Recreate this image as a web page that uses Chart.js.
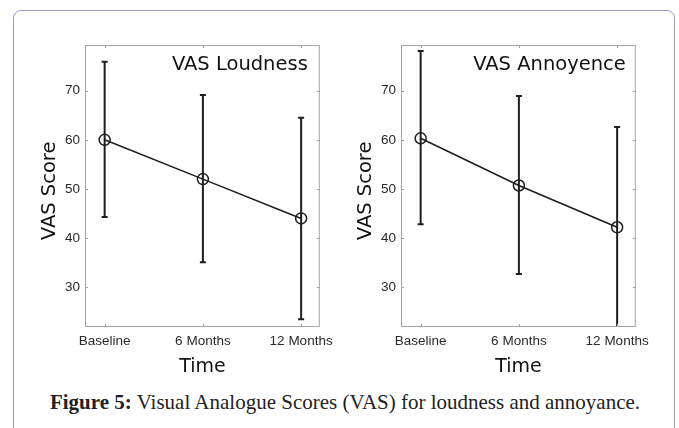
<!DOCTYPE html>
<html>
<head>
<meta charset="utf-8">
<script src="https://cdn.jsdelivr.net/npm/chart.js@4.4.1/dist/chart.umd.min.js"></script>
<style>
    body { margin: 0; background: #fff; width: 679px; height: 428px; overflow: hidden; position: relative; }
    #box { position: absolute; left: 13px; top: 10px; width: 660px; height: 500px; border: 1.6px solid #9a9ac6; border-radius: 8px; }
    .plot { position: absolute; top: 0; width: 340px; height: 390px; }
    #caption { position: absolute; left: 0; width: 690px; top: 392px; text-align: center; font: 21px 'Liberation Serif', serif; line-height: 21px; color: #222; }
</style>
</head>
<body>
<div id="box"></div>
<div class="plot" style="left:0px"><canvas id="loudness"></canvas></div>
<div class="plot" style="left:316px"><canvas id="annoyance"></canvas></div>
<div id="caption"><b>Figure 5:</b> Visual Analogue Scores (VAS) for loudness and annoyance.</div>
<script>
// data (mean, upper and lower end of error bars)
const categories = ['Baseline', '6 Months', '12 Months']
const yTicks = [30, 40, 50, 60, 70]

const loudnessMean = [60.0, 52.0, 44.0]
const loudnessUpper = [75.9, 69.1, 64.5]
const loudnessLower = [44.3, 35.1, 23.5]

const annoyMean = [60.3, 50.7, 42.2]
const annoyUpper = [78.1, 68.9, 62.6]
const annoyLower = [42.8, 32.7, 21.8]

const ink = '#1e1e1e'
const frameColor = '#a3a3a3'

// draws error bars, the box round the plot, inner ticks and the inset title
const matlabPlugin = {
    id: 'matlab',
    beforeDatasetsDraw(chart, args, opts) {
        const {ctx, chartArea: a, scales: {x, y}} = chart
        ctx.save()
        ctx.beginPath()
        ctx.rect(a.left, a.top, a.right - a.left, a.bottom - a.top)
        ctx.clip()
        ctx.strokeStyle = ink
        ctx.lineWidth = 2
        opts.upper.forEach((hi, i) => {
            const px = x.getPixelForValue(i)
            const top = y.getPixelForValue(hi)
            const bot = y.getPixelForValue(opts.lower[i])
            ctx.beginPath()
            ctx.moveTo(px, top); ctx.lineTo(px, bot)
            ctx.moveTo(px - 3, top); ctx.lineTo(px + 3, top)
            ctx.moveTo(px - 3, bot); ctx.lineTo(px + 3, bot)
            ctx.stroke()
        })
        ctx.restore()
    },
    afterDraw(chart, args, opts) {
        const {ctx, chartArea: a, scales: {x, y}} = chart
        ctx.save()
        ctx.strokeStyle = frameColor
        ctx.lineWidth = 1
        ctx.strokeRect(a.left + 0.5, a.top + 0.5, a.right - a.left - 1, a.bottom - a.top - 1)
        ctx.beginPath()
        y.ticks.forEach(t => {
            const py = Math.round(y.getPixelForValue(t.value)) + 0.5
            ctx.moveTo(a.left, py); ctx.lineTo(a.left + 3, py)
            ctx.moveTo(a.right, py); ctx.lineTo(a.right - 3, py)
        })
        x.ticks.forEach(t => {
            const px = Math.round(x.getPixelForValue(t.value)) + 0.5
            ctx.moveTo(px, a.bottom); ctx.lineTo(px, a.bottom - 3)
            ctx.moveTo(px, a.top); ctx.lineTo(px, a.top + 3)
        })
        ctx.stroke()

        ctx.fillStyle = '#111'
        ctx.font = '19.5px "DejaVu Sans"'
        ctx.textAlign = 'right'
        ctx.textBaseline = 'middle'
        ctx.fillText(opts.title, a.right - opts.titleRight, a.top + 20)
        ctx.restore()
    }
}

function makePlot(id, mean, upper, lower, title, titleRight) {
    return new Chart(document.getElementById(id), {
        type: 'line',
        data: {
            datasets: [{
                data: mean.map((v, i) => ({x: i, y: v})),
                borderColor: ink,
                borderWidth: 1.6,
                pointRadius: 5.5,
                pointHoverRadius: 5.5,
                pointBorderWidth: 1.5,
                pointBorderColor: ink,
                pointBackgroundColor: 'rgba(0,0,0,0)',
                fill: false
            }]
        },
        options: {
            responsive: true,
            maintainAspectRatio: false,
            animation: false,
            events: [],
            layout: { padding: { left: 0, top: 45, right: 17, bottom: 0 } },
            plugins: {
                legend: { display: false },
                tooltip: { enabled: false },
                matlab: { upper: upper, lower: lower, title: title, titleRight: titleRight }
            },
            scales: {
                x: {
                    type: 'linear',
                    min: -0.2,
                    max: 2.19,
                    grid: { display: false, drawTicks: false },
                    border: { display: false },
                    afterBuildTicks: s => { s.ticks = categories.map((c, i) => ({value: i})) },
                    afterFit: s => { s.height = 63 },
                    ticks: {
                        padding: 6,
                        maxRotation: 0,
                        autoSkip: false,
                        color: '#2a2a2a',
                        font: { family: 'Liberation Sans', size: 13.5 },
                        callback: v => categories[v]
                    },
                    title: {
                        display: true,
                        text: 'Time',
                        color: '#111',
                        font: { family: 'DejaVu Sans', size: 19 },
                        padding: { top: 0, bottom: 12 }
                    }
                },
                y: {
                    min: 21.9,
                    max: 79.3,
                    grid: { display: false, drawTicks: false },
                    border: { display: false },
                    afterBuildTicks: s => { s.ticks = yTicks.map(v => ({value: v})) },
                    afterFit: s => { s.width = 85 },
                    ticks: {
                        padding: 5,
                        color: '#2a2a2a',
                        font: { family: 'Liberation Sans', size: 13.5 }
                    },
                    title: {
                        display: true,
                        text: 'VAS Score\u2002', // trailing space nudges the label down a little
                        color: '#111',
                        font: { family: 'DejaVu Sans', size: 19.5 },
                        padding: { top: 38.3, bottom: 0 }
                    }
                }
            }
        },
        plugins: [matlabPlugin]
    })
}

makePlot('loudness', loudnessMean, loudnessUpper, loudnessLower, 'VAS Loudness', 12)
makePlot('annoyance', annoyMean, annoyUpper, annoyLower, 'VAS Annoyence', 10)
</script>
</body>
</html>
